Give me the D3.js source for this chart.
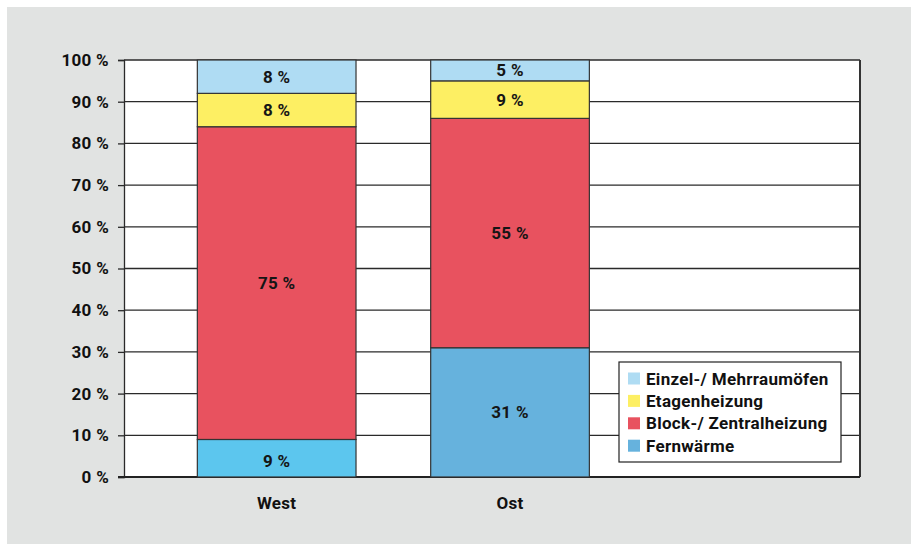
<!DOCTYPE html>
<html><head><meta charset="utf-8">
<script src="https://cdn.jsdelivr.net/npm/d3@7"></script>
<style>
html,body{margin:0;padding:0;background:#fff;}
svg{display:block;font-family:Roboto,"Liberation Sans",sans-serif;}
</style></head>
<body>
<svg id="chart" width="911" height="544"></svg>
<script>
const categories = ["West", "Ost"];
const seriesNames = ["Fernwärme", "Block-/ Zentralheizung", "Etagenheizung", "Einzel-/ Mehrraumöfen"];
const fernwaerme = [9, 31];
const blockZentral = [75, 55];
const etagen = [8, 9];
const einzel = [8, 5];
const yTicks = [0, 10, 20, 30, 40, 50, 60, 70, 80, 90, 100];
const seriesColors = ["#66b2dd", "#e8525f", "#fdef63", "#afdcf3"];
const fernColorsByBar = ["#5cc6ee", "#66b2dd"];
const legendOrder = ["Einzel-/ Mehrraumöfen", "Etagenheizung", "Block-/ Zentralheizung", "Fernwärme"];

(function () {
const FS = 17, FW = 700, LS = 0.3;
const svg = d3.select("#chart");
svg.append("rect").attr("x", 7).attr("y", 7).attr("width", 904).attr("height", 537).attr("fill", "#e1e3e2");

const pL = 124, pR = 860, pT = 60, pB = 477;
const x = d3.scaleBand().domain(categories).range([160, 626.7]).paddingInner(0.32).paddingOuter(0.16);
const y = d3.scaleLinear().domain([0, 100]).range([pB, pT]);

svg.append("rect").attr("x", pL).attr("y", pT).attr("width", pR - pL).attr("height", pB - pT).attr("fill", "#fff");

svg.append("g").selectAll("line").data(yTicks).join("line")
  .attr("x1", pL).attr("x2", pR)
  .attr("y1", d => y(d)).attr("y2", d => y(d))
  .attr("stroke", "#2a2a2a").attr("stroke-width", 1.3);

const yAxis = d3.axisLeft(y).tickValues(yTicks).tickFormat(d => d + " %").tickSize(6).tickPadding(9);
const gy = svg.append("g").attr("transform", `translate(${pL},0)`).call(yAxis);
gy.select(".domain").attr("stroke", "#2a2a2a").attr("stroke-width", 1.3);
gy.selectAll(".tick line").attr("stroke", "#2a2a2a").attr("stroke-width", 1.3);
gy.selectAll(".tick text").attr("font-size", FS).attr("font-weight", FW).attr("fill", "#111")
  .attr("letter-spacing", LS).attr("font-family", "Roboto, sans-serif");

svg.append("line").attr("x1", pR).attr("x2", pR).attr("y1", pT).attr("y2", pB)
  .attr("stroke", "#333").attr("stroke-width", 2);
svg.append("line").attr("x1", pL - 6).attr("x2", pR).attr("y1", pB).attr("y2", pB)
  .attr("stroke", "#222").attr("stroke-width", 2);

const table = categories.map((c, i) => ({
  cat: c,
  "Fernwärme": fernwaerme[i],
  "Block-/ Zentralheizung": blockZentral[i],
  "Etagenheizung": etagen[i],
  "Einzel-/ Mehrraumöfen": einzel[i]
}));
const stack = d3.stack().keys(seriesNames)(table);

const gBars = svg.append("g");
stack.forEach((layer, si) => {
  layer.forEach((seg, bi) => {
    const fill = si === 0 ? fernColorsByBar[bi] : seriesColors[si];
    gBars.append("rect")
      .attr("x", x(seg.data.cat)).attr("width", x.bandwidth())
      .attr("y", y(seg[1])).attr("height", y(seg[0]) - y(seg[1]))
      .attr("fill", fill).attr("stroke", "#333").attr("stroke-width", 1.2);
  });
});
stack.forEach((layer, si) => {
  layer.forEach(seg => {
    const v = seg[1] - seg[0];
    gBars.append("text")
      .attr("x", x(seg.data.cat) + x.bandwidth() / 2)
      .attr("y", (y(seg[0]) + y(seg[1])) / 2 + (si === 0 && seg.data.cat === "West" ? 3 : 0))
      .attr("text-anchor", "middle").attr("dominant-baseline", "central")
      .attr("font-size", FS).attr("font-weight", FW).attr("letter-spacing", LS).attr("fill", "#151515")
      .text(v + " %");
  });
});

const xAxis = d3.axisBottom(x).tickSize(0).tickPadding(20);
const gx = svg.append("g").attr("transform", `translate(0,${pB})`).call(xAxis);
gx.select(".domain").remove();
gx.selectAll(".tick text").attr("font-size", FS).attr("font-weight", FW).attr("fill", "#111")
  .attr("letter-spacing", LS).attr("font-family", "Roboto, sans-serif");

const lg = svg.append("g").attr("transform", "translate(619,362)");
lg.append("rect").attr("width", 222).attr("height", 100).attr("fill", "#fff").attr("stroke", "#222").attr("stroke-width", 1.2);
legendOrder.forEach((name, i) => {
  const si = seriesNames.indexOf(name);
  const row = lg.append("g").attr("transform", `translate(9,${16.5 + i * 22.4})`);
  row.append("rect").attr("x", 0).attr("y", -6).attr("width", 12).attr("height", 12).attr("fill", seriesColors[si]);
  row.append("text").attr("x", 18).attr("y", 0).attr("dominant-baseline", "central")
    .attr("font-size", FS).attr("font-weight", FW).attr("letter-spacing", LS).attr("fill", "#111").text(name);
});
})();
</script>
</body></html>
